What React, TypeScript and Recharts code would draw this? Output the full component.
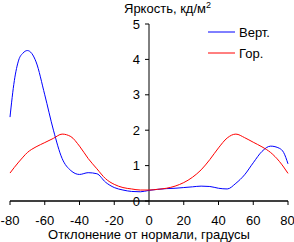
import { LineChart, Line, XAxis, YAxis, ReferenceLine, Customized } from "recharts";

const angles = [-80, -77.5, -75, -72.5, -70, -67.5, -65, -60, -55, -50, -45, -40, -35, -30, -25, -20, -15, -10, -5, 0, 5, 10, 15, 20, 25, 30, 35, 40, 45, 50, 55, 60, 65, 70, 75, 77.5, 80];
const vert = [2.37, 3.4, 3.98, 4.18, 4.25, 4.17, 3.93, 3.0, 2.0, 1.2, 0.86, 0.75, 0.8, 0.77, 0.53, 0.38, 0.31, 0.27, 0.26, 0.3, 0.33, 0.35, 0.36, 0.38, 0.4, 0.42, 0.41, 0.36, 0.34, 0.5, 0.74, 1.08, 1.4, 1.55, 1.49, 1.37, 1.05];
const hor = [0.79, 0.95, 1.1, 1.24, 1.37, 1.46, 1.53, 1.65, 1.77, 1.89, 1.82, 1.55, 1.2, 0.91, 0.63, 0.47, 0.38, 0.34, 0.31, 0.31, 0.33, 0.36, 0.42, 0.52, 0.67, 0.88, 1.17, 1.5, 1.78, 1.89, 1.79, 1.66, 1.53, 1.37, 1.12, 0.96, 0.78];
const xTicks = [-80, -60, -40, -20, 0, 20, 40, 60, 80];
const yTicks = [0, 1, 2, 3, 4, 5];
const seriesNames = ["Верт.", "Гор."];
const seriesColors = ["#0000ff", "#ff0000"];

const data = angles.map((a, i) => ({ angle: a, vert: vert[i], hor: hor[i] }));

const FONT = "'Liberation Sans', Arial, sans-serif";
const AXIS_X = 149; // where x = 0 lands

const renderYTick = (props: any) => {
  const { y, payload } = props;
  return (
    <g>
      <line x1={AXIS_X - 4} x2={AXIS_X} y1={y} y2={y} stroke="#000" />
      <text x={AXIS_X - 9} y={y} dy="0.35em" textAnchor="end" fontSize={13} fontFamily={FONT} fill="#000">
        {payload.value}
      </text>
    </g>
  );
};

function Extras() {
  return (
    <g fontFamily={FONT} fontSize={13} fill="#000">
      <text x={124} y={13}>
        Яркость, кд/м<tspan fontSize={9} dy={-5}>2</tspan>
      </text>
      {seriesNames.map((n, i) => (
        <g key={n}>
          <line x1={208} x2={235} y1={32 + i * 21} y2={32 + i * 21} stroke={seriesColors[i]} />
          <text x={239} y={32 + i * 21} dy="0.35em">{n}</text>
        </g>
      ))}
    </g>
  );
}

export default function App() {
  return (
    <div style={{ position: "absolute", left: 0, top: 0, width: 294, height: 242, background: "#fff" }}>
      <LineChart width={294} height={242} data={data} margin={{ top: 24, right: 6, left: 9, bottom: 0 }}>
        <XAxis
          dataKey="angle"
          type="number"
          domain={[-80, 80]}
          ticks={xTicks}
          height={41}
          axisLine={{ stroke: "#000" }}
          tickLine={{ stroke: "#000" }}
          tickSize={4}
          tickMargin={11}
          tick={{ fill: "#000", fontSize: 13, fontFamily: FONT }}
          label={{ value: "Отклонение от нормали, градусы", position: "insideBottom", offset: 3, fill: "#000", fontSize: 13, fontFamily: FONT }}
        />
        <YAxis domain={[0, 5]} ticks={yTicks} width={1} axisLine={false} tickLine={false} tick={renderYTick} />
        <ReferenceLine x={0} stroke="#000" />
        <ReferenceLine y={0} stroke="#000" />
        <Line type="monotone" dataKey="vert" stroke={seriesColors[0]} strokeWidth={1} dot={false} isAnimationActive={false} />
        <Line type="monotone" dataKey="hor" stroke={seriesColors[1]} strokeWidth={1} dot={false} isAnimationActive={false} />
        <Customized component={Extras} />
      </LineChart>
    </div>
  );
}
